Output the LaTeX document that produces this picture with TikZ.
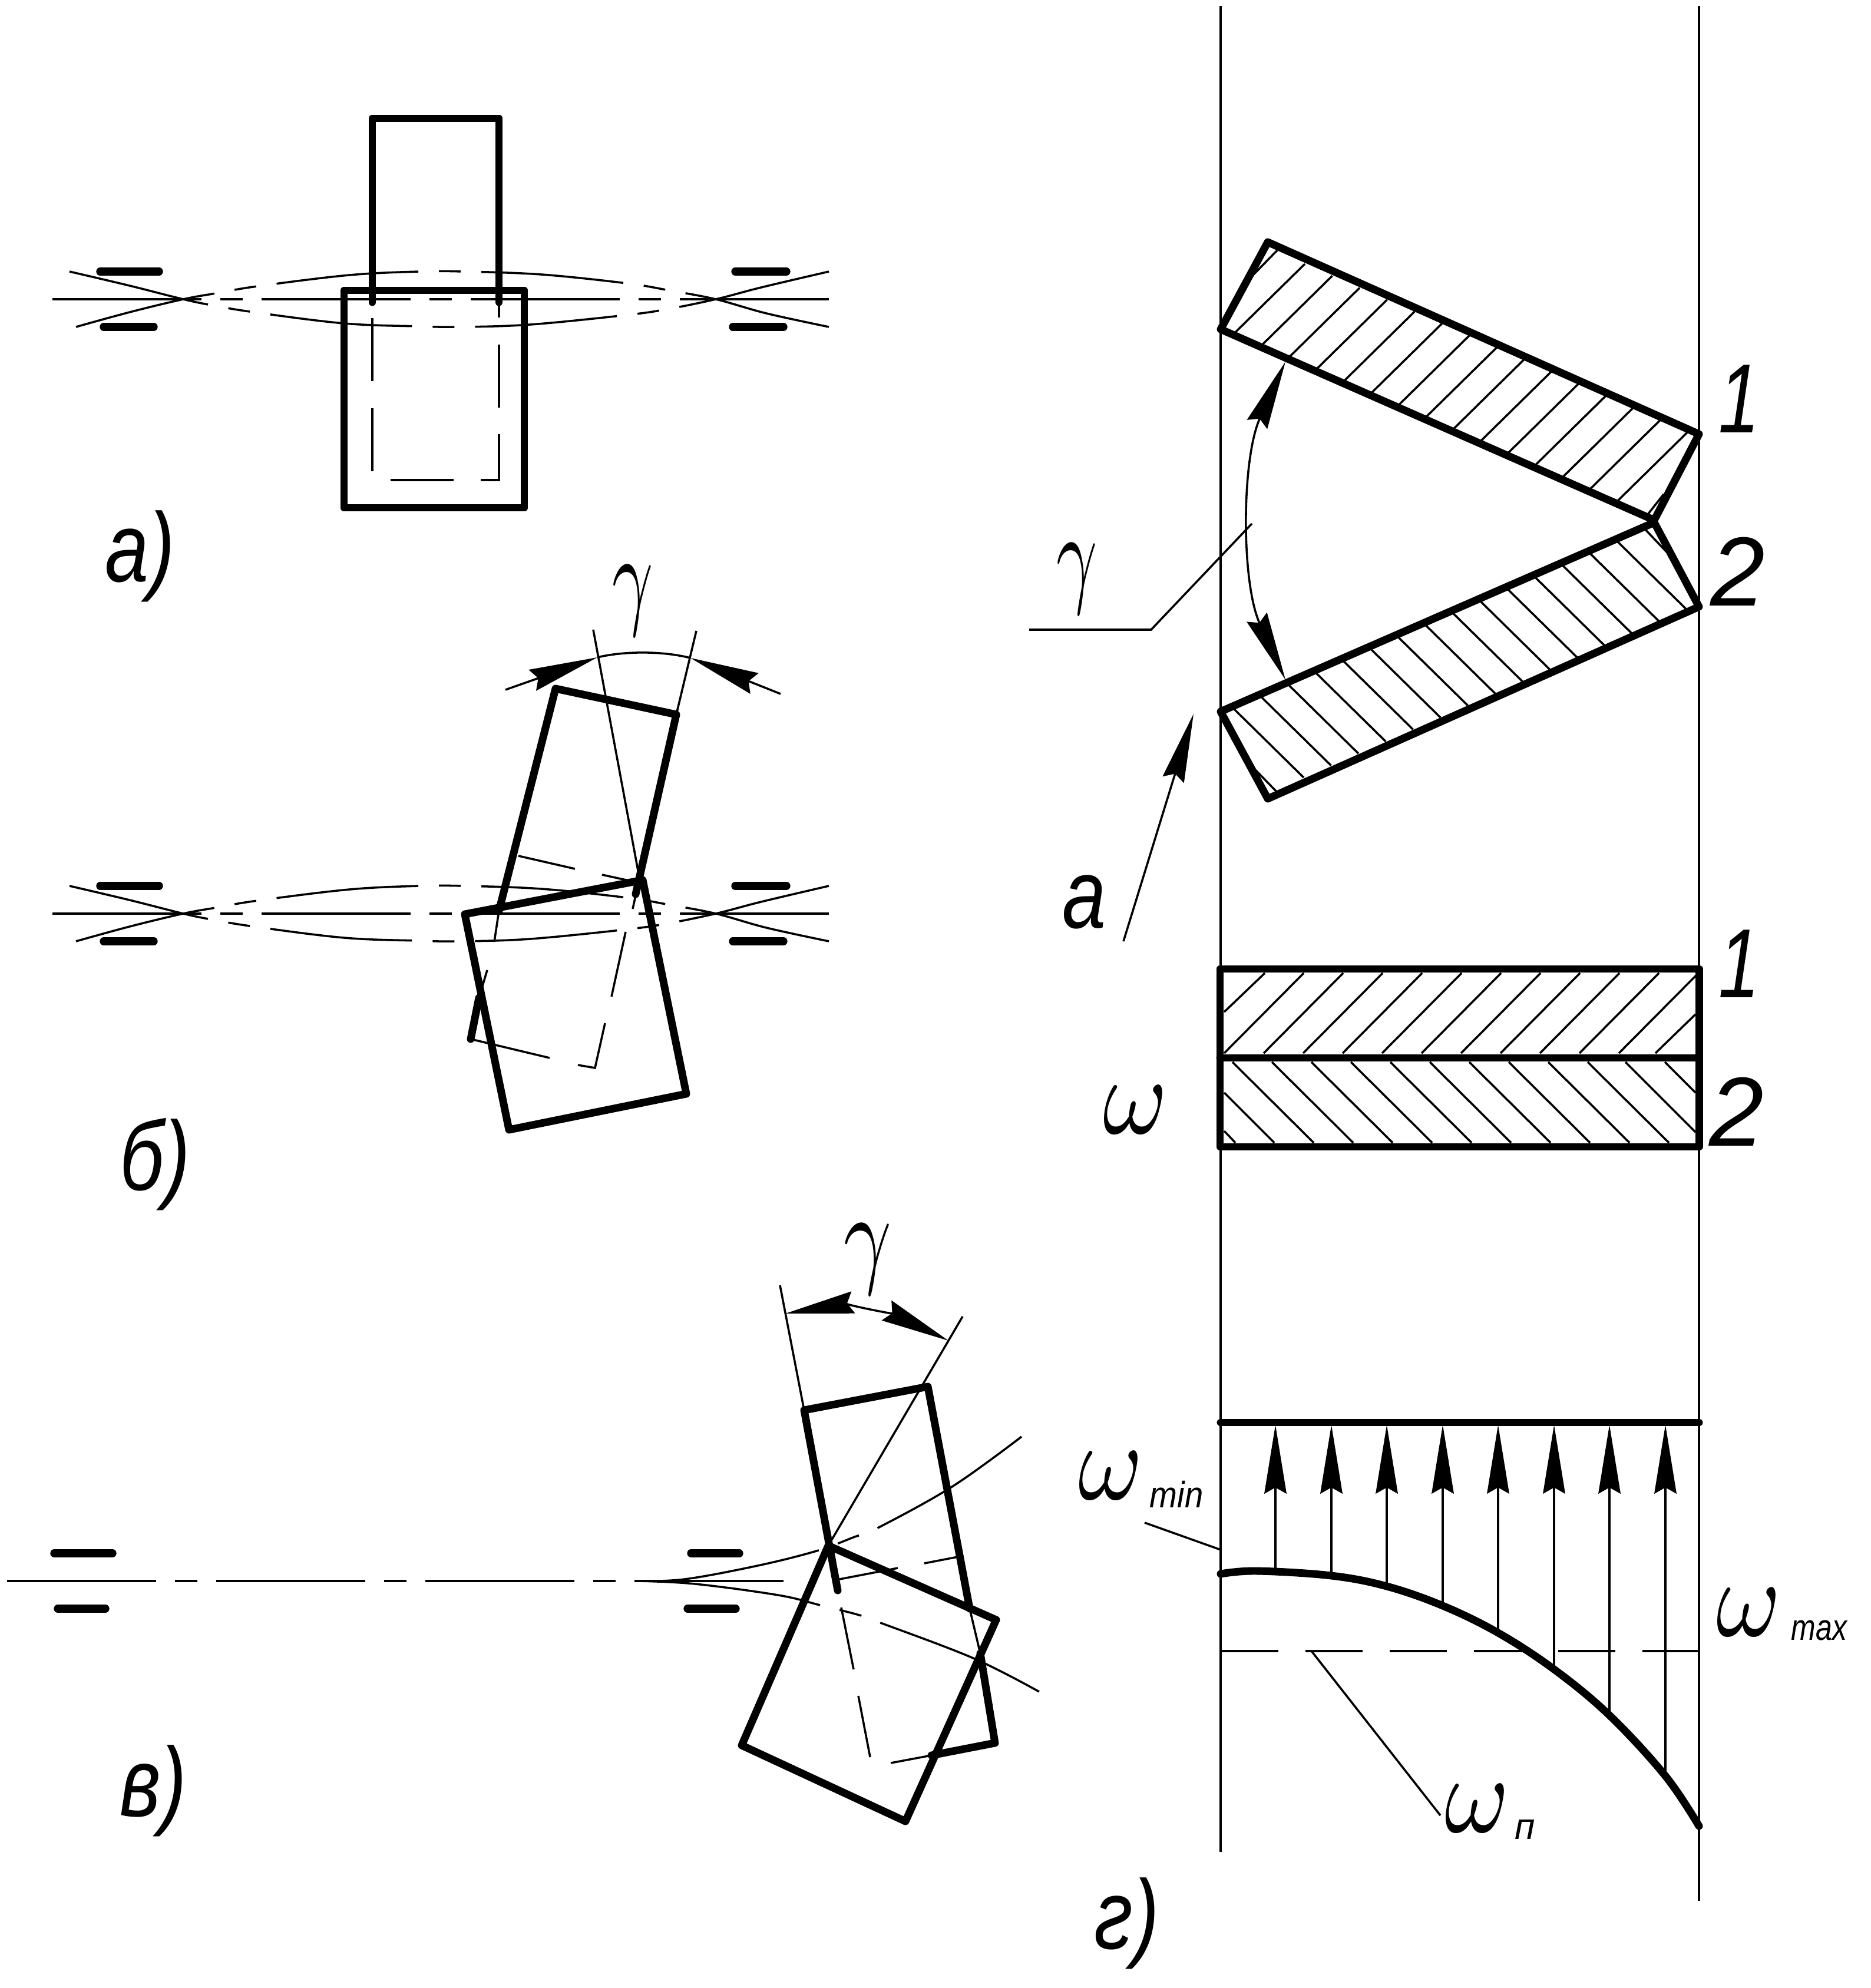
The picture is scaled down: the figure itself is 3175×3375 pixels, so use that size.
\documentclass[tikz,border=0pt]{standalone}
\usepackage{fontspec}
\usetikzlibrary{arrows.meta}
\newfontfamily\gostfont{Liberation Sans}[ItalicFont={Liberation Sans Italic}]

\tikzset{
  thinline/.style={line width=0.85pt},
  heavyline/.style={line width=3.1pt,line cap=round,line join=round},
  barline/.style={line width=3.2pt,line cap=round},
  axisline/.style={thinline,dash pattern=on 60.7pt off 7.7pt on 9.1pt off 7.7pt},
  bentline/.style={thinline,dash pattern=on 58pt off 8.4pt on 8.9pt off 8.4pt on 58pt off 8.4pt on 8.9pt off 8.4pt on 58pt off 8.4pt on 8.9pt off 8.4pt on 70pt off 1pt},
  flexline/.style={thinline,dash pattern=on 75pt off 8.2pt on 9.2pt off 8.2pt on 200pt off 1pt},
  hiddenline/.style={thinline,dash pattern=on 23.3pt off 11pt},
  bigtip/.tip={Stealth[length=28pt,width=9pt,inset=2.5pt]},
  lettering/.style={font=\gostfont\itshape\fontsize{40}{40}\selectfont,inner sep=0pt},
  smallletters/.style={font=\gostfont\itshape\fontsize{15}{15}\selectfont,inner sep=0pt},
  greekgamma/.style={inner sep=0pt,xscale=2.9,yscale=4.6},
  greekomega/.style={inner sep=0pt,xscale=4,yscale=4.5}
}

\begin{document}
\begin{tikzpicture}[x=0.24pt,y=-0.24pt]
\useasboundingbox (0,0) rectangle (3175,3375);

%Shaft with supports, views a and b
\foreach \yc in {508,1551}{
\begin{scope}[shift={(0,\yc)}]
\draw [axisline] (89,0) -- (1414,0);
\draw [bentline] plot[smooth,tension=0.6] coordinates {(129,47) (220,22) (311,0) (366,-10) (437,-22) (593,-41) (713,-47) (787,-47) (919,-42) (1064,-27) (1136,-15) (1215,0) (1301,24) (1407,47)};
\draw [bentline] plot[smooth,tension=0.6] coordinates {(118,-47) (220,-23) (311,0) (359,10) (431,22) (584,41) (710,46) (783,47) (900,43) (1062,27) (1132,17) (1215,0) (1292,-20) (1407,-47)};
\draw [barline] (170,-47) -- (270,-47);
\draw [barline] (176,47) -- (261,47);
\draw [barline] (1248,-47) -- (1335,-47);
\draw [barline] (1244,47) -- (1330,47);
\end{scope}
}

%View a
\draw [heavyline] (632,513) -- (632,201) -- (847,201) -- (847,513);
\draw [heavyline] (584,493) rectangle (890,862);
\draw [thinline] (632,540) -- (632,647);
\draw [thinline] (632,693) -- (632,800);
\draw [thinline] (847,509) -- (847,539);
\draw [thinline] (847,585) -- (847,692);
\draw [thinline] (847,737) -- (847,815) -- (816,815);
\draw [thinline] (770,815) -- (663,815);
\node [lettering,xscale=0.8] (labelA) at (238,944) {а)};

%View b
\draw [heavyline] (789,1552) -- (1091,1494) -- (1165,1857) -- (864,1918) -- cycle;
\draw [heavyline] (1079,1518) -- (1148,1213) -- (943,1169) -- (847,1546);
\draw [heavyline] (813,1694) -- (799,1764);
\draw [thinline] (847,1546) -- (839,1599);
\draw [thinline] (827,1647) -- (813,1694);
\draw [thinline] (799,1764) -- (933,1796);
\draw [thinline] (981,1808) -- (1010,1813) -- (1027,1737);
\draw [thinline] (1038,1692) -- (1062,1582);
\draw [thinline] (1074,1543) -- (1081,1511);
\draw [thinline] (880,1453) -- (976,1475);
\draw [thinline] (1022,1485) -- (1086,1499);
\draw [thinline] (1007,1069) -- (1086,1494);
\draw [thinline] (1182,1071) -- (1148,1213);
\draw [thinline,-bigtip] (858,1171) -- (1014,1116);
\draw [thinline,-bigtip] (1325,1178) -- (1172,1117);
\draw [thinline] (1014,1116) .. controls (1060,1105) and (1125,1105) .. (1172,1117);
\node [greekgamma] (gammaB) at (1074,1020) {$\gamma$};
\node [lettering,xscale=0.8] (labelB) at (263,1977) {б)};

%View c
\draw [axisline] (12,2684) -- (1336,2684);
\draw [flexline] plot[smooth,tension=0.6] coordinates {(1083,2684) (1162,2681) (1286,2658) (1386,2633) (1451,2609) (1486,2596) (1616,2524) (1734,2439)};
\draw [flexline] plot[smooth,tension=0.6] coordinates {(1083,2684) (1180,2689) (1321,2708) (1392,2725) (1459,2742) (1492,2754) (1652,2815) (1764,2872)};
\draw [barline] (92,2637) -- (191,2637);
\draw [barline] (98,2731) -- (179,2731);
\draw [barline] (1173,2637) -- (1255,2637);
\draw [barline] (1167,2731) -- (1249,2731);
\draw [heavyline] (1406,2624) -- (1691,2750) -- (1537,3092) -- (1259,2963) -- cycle;
\draw [heavyline] (1422,2700) -- (1365,2394) -- (1575,2354) -- (1646,2731);
\draw [heavyline] (1664,2807) -- (1689,2959) -- (1581,2980);
\draw [thinline] (1646,2731) -- (1664,2807);
\draw [thinline] (1581,2980) -- (1512,2993);
\draw [thinline] (1477,2983) -- (1457,2879);
\draw [thinline] (1449,2834) -- (1428,2729);
\draw [thinline] (1626,2643) -- (1569,2654);
\draw [thinline] (1524,2662) -- (1425,2681);
\draw [thinline] (1324,2182) -- (1365,2394);
\draw [thinline] (1634,2235) -- (1406,2624);
\draw [thinline,bigtip-bigtip] (1333,2230) .. controls (1430,2214) and (1520,2232) .. (1610,2276);
\node [greekgamma,xscale=1.17] (gammaC) at (1473,2138) {$\gamma$};
\node [lettering,xscale=0.8] (labelC) at (260,3040) {в)};

%Right verticals
\draw [thinline] (2072,10) -- (2072,3144);
\draw [thinline] (2884,10) -- (2884,3227);

%Tilted plates
\foreach \i in {0,...,14}{
\draw [thinline] ({2095+46.5*\i},{566+20.3*\i}) -- ({2215+46.5*\i},{448+20.3*\i});
\draw [thinline] ({2095+46.4*\i},{1204-20.4*\i}) -- ({2213+46.4*\i},{1320-20.4*\i});
}
\draw [thinline] (2128,466) -- (2168,425);
\draw [thinline] (2791,881) -- (2824,839);
\draw [thinline] (2128,1304) -- (2166,1343);
\draw [thinline] (2791,897) -- (2829,937);
\draw [heavyline] (2152,411) -- (2884,737) -- (2808,883) -- (2072,559) -- cycle;
\draw [heavyline] (2072,1208) -- (2808,887) -- (2884,1030) -- (2152,1356) -- cycle;
\draw [thinline,bigtip-bigtip] (2182,614) .. controls (2107,780) and (2107,990) .. (2182,1154);
\draw [thinline] (2125,889) -- (1954,1069) -- (1747,1069);
\draw [thinline,-bigtip] (1907,1598) -- (2026,1212);
\node [greekgamma] (gammaA) at (1828,983) {$\gamma$};
\node [lettering,xscale=0.8] (markA) at (1841,1531) {а};
\node [lettering,xscale=0.75] (oneA) at (2952,677) {1};
\node [lettering] (twoA) at (2950,970) {2};

%Flat plates
\foreach \i in {0,...,10}{
\draw [thinline] ({2078+67*\i},1788) -- ({2213+67*\i},1652);
}
\foreach \i in {0,...,9}{
\draw [thinline] ({2092+67*\i},1803) -- ({2230+67*\i},1940);
}
\draw [thinline] (2147,1652) -- (2078,1718);
\draw [thinline] (2810,1788) -- (2878,1722);
\draw [thinline] (2759,1803) -- (2878,1922);
\draw [thinline] (2826,1803) -- (2878,1855);
\draw [thinline] (2078,1855) -- (2163,1940);
\draw [thinline] (2078,1920) -- (2097,1940);
\draw [heavyline] (2071,1645) rectangle (2884,1947);
\draw [heavyline] (2071,1796) -- (2884,1796);
\node [lettering,xscale=0.75] (oneB) at (2952,1636) {1};
\node [lettering] (twoB) at (2948,1887) {2};
\node [greekomega] (omegaB) at (1927,1884) {$\omega$};

%Speed diagram
\foreach \x/\yb in {2165/2666,2260/2674,2354/2693,2449/2726,2543/2772,2638/2834,2732/2911,2827/3015}{
\draw [thinline,-bigtip] (\x,\yb) -- (\x,2419);
}
\draw [heavyline] (2072,2415) -- (2884,2415);
\draw [heavyline] plot[smooth,tension=0.6] coordinates {(2072,2672) (2133,2667) (2260,2675) (2354,2693) (2449,2726) (2543,2772) (2638,2834) (2732,2912) (2827,3015) (2884,3100)};
\draw [hiddenline] (2073,2803) -- (2884,2803);
\draw [thinline] (2227,2804) -- (2445,3082);
\draw [thinline] (1943,2585) -- (2072,2631);
\node [greekomega] (omegaMin) at (1885,2505) {$\omega$};
\node [smallletters,xscale=0.9] (textMin) at (1997,2537) {min};
\node [greekomega] (omegaMax) at (2968,2737) {$\omega$};
\node [smallletters,xscale=0.8] (textMax) at (3088,2768) {max};
\node [greekomega] (omegaN) at (2507,3070) {$\omega$};
\node [smallletters] (textN) at (2589,3106) {п};
\node [lettering,xscale=0.8] (labelD) at (1913,3265) {г)};

\end{tikzpicture}
\end{document}
